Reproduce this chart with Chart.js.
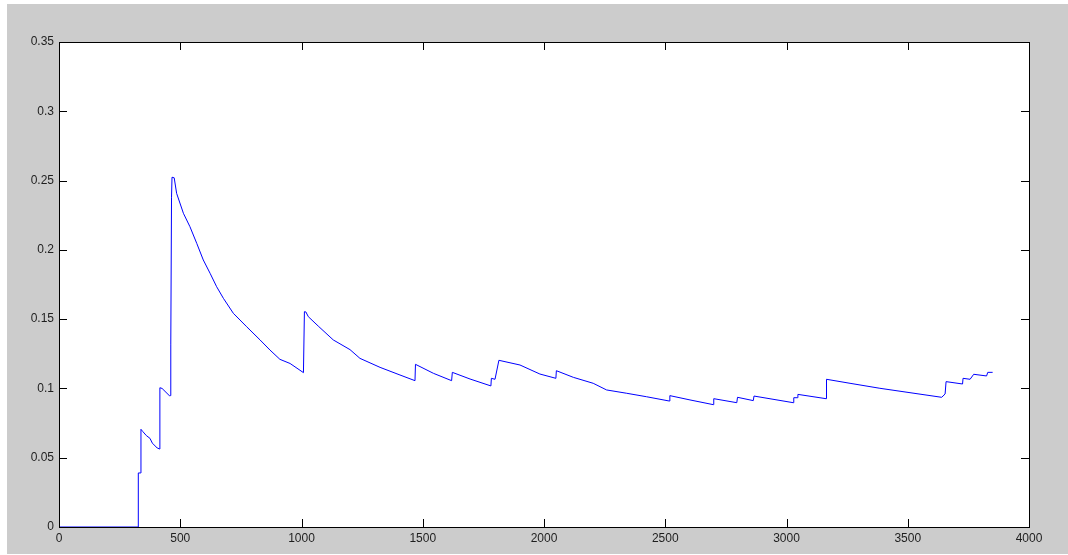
<!DOCTYPE html>
<html>
<head>
<meta charset="utf-8">
<script src="https://cdn.jsdelivr.net/npm/chart.js@4"></script>
<style>
  html, body { margin: 0; padding: 0; background: #ffffff; }
  #wrap { position: relative; width: 1068px; height: 555px; }
</style>
</head>
<body>
<div id="wrap"><canvas id="plot" width="1068" height="555"></canvas></div>
<script>
// x positions of the trace (jumps are two points at about the same x)
const xValues = [
  0, 327, 327, 337, 338, 345, 360, 375, 385, 405, 415,
  416, 425, 455, 460, 461, 464, 466, 475,
  485, 513, 540, 568, 595, 623, 650, 678, 719, 774, 829, 870, 911, 953, 1008,
  1012, 1018, 1028, 1069, 1131, 1200, 1241, 1324, 1406, 1468,
  1470, 1544, 1619, 1622, 1695, 1781, 1783, 1798, 1800, 1814,
  1901, 1983, 2049, 2051, 2121, 2203, 2258, 2341, 2423, 2517, 2519, 2602, 2698,
  2700, 2795, 2798, 2863, 2866, 3028, 3030, 3045, 3047, 3163,
  3165, 3262, 3385, 3640, 3654, 3658, 3726, 3728, 3757, 3772, 3825, 3830, 3850
];
const yValues = [
  0, 0, 0.039, 0.039, 0.0705, 0.069, 0.066, 0.064, 0.0605, 0.057, 0.0563,
  0.1005, 0.1, 0.0948, 0.0948, 0.132, 0.238, 0.2524, 0.252,
  0.2408, 0.2264, 0.2167, 0.2047, 0.1927, 0.1831, 0.1734, 0.165, 0.1542, 0.1445, 0.135, 0.1277, 0.121, 0.118, 0.1114,
  0.1554, 0.1552, 0.1518, 0.145, 0.135, 0.128, 0.1217, 0.1152, 0.1097, 0.1056,
  0.1174, 0.1109, 0.1056, 0.1116, 0.1068, 0.1018, 0.1073, 0.1066, 0.1066, 0.1203,
  0.1169, 0.1104, 0.1073, 0.1128, 0.108, 0.1037, 0.0989, 0.0965, 0.094, 0.0909, 0.0948, 0.0917, 0.0883,
  0.0926, 0.0897, 0.0936, 0.0912, 0.0945, 0.0897, 0.0933, 0.0933, 0.0957, 0.0926,
  0.1066, 0.1037, 0.1001, 0.0936, 0.096, 0.1049, 0.1032, 0.1073, 0.1066, 0.1102, 0.109, 0.1116, 0.1116
];
const xTicks = [0, 500, 1000, 1500, 2000, 2500, 3000, 3500, 4000];
const yTicks = [0, 0.05, 0.1, 0.15, 0.2, 0.25, 0.3, 0.35];

const points = xValues.map((x, i) => ({ x: x, y: yValues[i] }));

// gray figure, white axes box, inward ticks on all four sides
const matlabFrame = {
  id: 'matlabFrame',
  beforeDraw(chart) {
    const ctx = chart.ctx;
    const a = chart.chartArea;
    ctx.save();
    ctx.fillStyle = '#cccccc';
    ctx.fillRect(7, 4, 1061, 550);
    ctx.fillStyle = '#ffffff';
    ctx.fillRect(a.left, a.top, a.right - a.left, a.bottom - a.top);
    ctx.restore();
  },
  afterDraw(chart) {
    const ctx = chart.ctx;
    const a = chart.chartArea;
    const xs = chart.scales.x, ys = chart.scales.y;
    ctx.save();
    ctx.strokeStyle = '#000000';
    ctx.lineWidth = 1;
    ctx.beginPath();
    xTicks.forEach(v => {
      const px = Math.round(xs.getPixelForValue(v)) + 0.5;
      ctx.moveTo(px, a.bottom); ctx.lineTo(px, a.bottom - 8);
      ctx.moveTo(px, a.top); ctx.lineTo(px, a.top + 8);
    });
    yTicks.forEach(v => {
      const py = Math.round(ys.getPixelForValue(v)) + 0.5;
      ctx.moveTo(a.left, py); ctx.lineTo(a.left + 8, py);
      ctx.moveTo(a.right, py); ctx.lineTo(a.right - 8, py);
    });
    ctx.stroke();
    ctx.strokeRect(Math.round(a.left) + 0.5, Math.round(a.top) + 0.5,
                   Math.round(a.right - a.left), Math.round(a.bottom - a.top));
    ctx.restore();
  }
};

new Chart(document.getElementById('plot'), {
  type: 'line',
  data: {
    datasets: [{
      data: points,
      borderColor: '#0000ff',
      borderWidth: 1,
      pointRadius: 0,
      tension: 0,
      fill: false
    }]
  },
  options: {
    responsive: false,
    animation: false,
    events: [],
    layout: { padding: { top: 42, right: 39, left: 0, bottom: 0 } },
    plugins: { legend: { display: false }, tooltip: { enabled: false } },
    scales: {
      x: {
        type: 'linear',
        min: 0, max: 4000,
        afterFit: s => { s.height = 28; },
        afterBuildTicks: s => { s.ticks = xTicks.map(v => ({ value: v })); },
        grid: { display: false, drawTicks: false, tickLength: 0 },
        border: { display: false },
        ticks: {
          padding: 4,
          color: '#1e1e1e',
          font: { family: 'Liberation Sans, Arial, sans-serif', size: 12 },
          maxRotation: 0,
          callback: v => String(v)
        }
      },
      y: {
        min: 0, max: 0.35,
        afterFit: s => { s.width = 59; },
        afterBuildTicks: s => { s.ticks = yTicks.map(v => ({ value: v })); },
        grid: { display: false, drawTicks: false, tickLength: 0 },
        border: { display: false },
        ticks: {
          padding: 5,
          color: '#1e1e1e',
          font: { family: 'Liberation Sans, Arial, sans-serif', size: 12 },
          callback: v => String(Math.round(v * 100) / 100)
        }
      }
    }
  },
  plugins: [matlabFrame]
});
</script>
</body>
</html>
